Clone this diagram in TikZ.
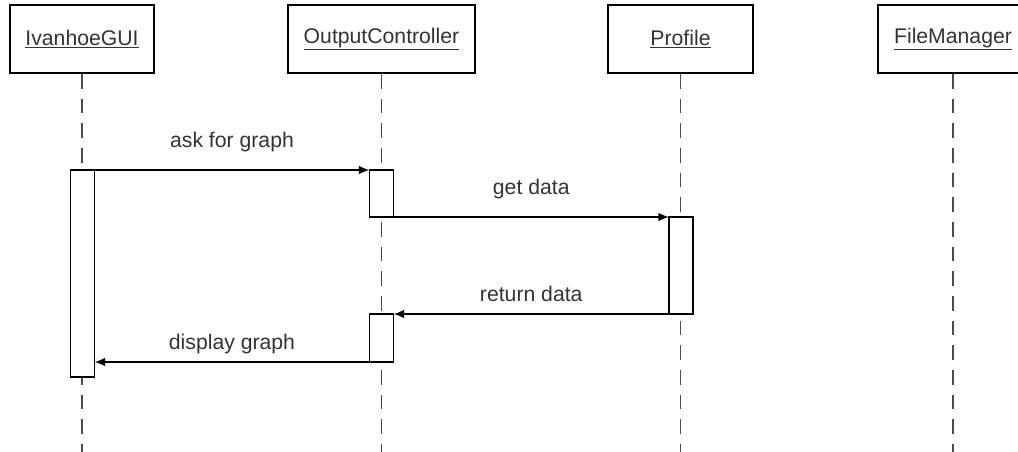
\documentclass[tikz,border=0pt]{standalone}
\usepackage{fontspec}
\setmainfont{Liberation Sans}
\usetikzlibrary{arrows.meta}

\begin{document}
\begin{tikzpicture}[x=0.75pt,y=-0.75pt,line width=1.3pt,
  every node/.style={font=\fontsize{15.9}{19}\selectfont,text=black!80},
  obj/.style={draw,minimum height=68*0.75pt,inner sep=0pt},
  life/.style={dash pattern=on 11pt off 7.5pt,black!70},
  act/.style={draw,fill=white,anchor=north,minimum width=24*0.75pt,inner sep=0pt,outer sep=0pt},
  msg/.style={-{Latex[length=8pt,width=6.5pt]}},
  lbl/.style={anchor=base,yshift=#1}]
  \useasboundingbox (0,0) rectangle (1018,452);
  \coordinate (bot) at (0,452);
  % objects
  \node[obj,minimum width=144*0.75pt] (gui) at (82,39) {\underline{IvanhoeGUI}};
  \node[obj,minimum width=187*0.75pt] (oc) at (381.5,39) {\underline{OutputController}};
  \node[obj,minimum width=145*0.75pt] (prof) at (680.5,39) {\underline{Profile}};
  \node[obj,minimum width=150*0.75pt] (fm) at (953,39) {\underline{FileManager}};
  % lifelines
  \foreach \o in {gui,oc,prof,fm}
    \draw[life] (\o.south) -- (\o.south |- bot);
  % activations
  \node[act,minimum height=207*0.75pt] (guiact) at (82.5,170) {};
  \node[act,minimum height=47*0.75pt] (ocact1) at (381.5,170) {};
  \node[act,minimum height=97*0.75pt] (profact) at (681,217) {};
  \node[act,minimum height=48*0.75pt] (ocact2) at (381.5,314) {};
  % messages
  \draw[msg] (guiact.north east) -- node[lbl=17pt]{ask for graph} (ocact1.north west);
  \draw[msg] (ocact1.south east) -- node[lbl=17pt]{get data} (profact.north west);
  \draw[msg] (profact.south west) -- node[lbl=9.5pt]{return data} (ocact2.north east);
  \draw[msg] (ocact2.south west) -- node[lbl=9.5pt]{display graph} (ocact2.south west -| guiact.east);
\end{tikzpicture}
\end{document}
